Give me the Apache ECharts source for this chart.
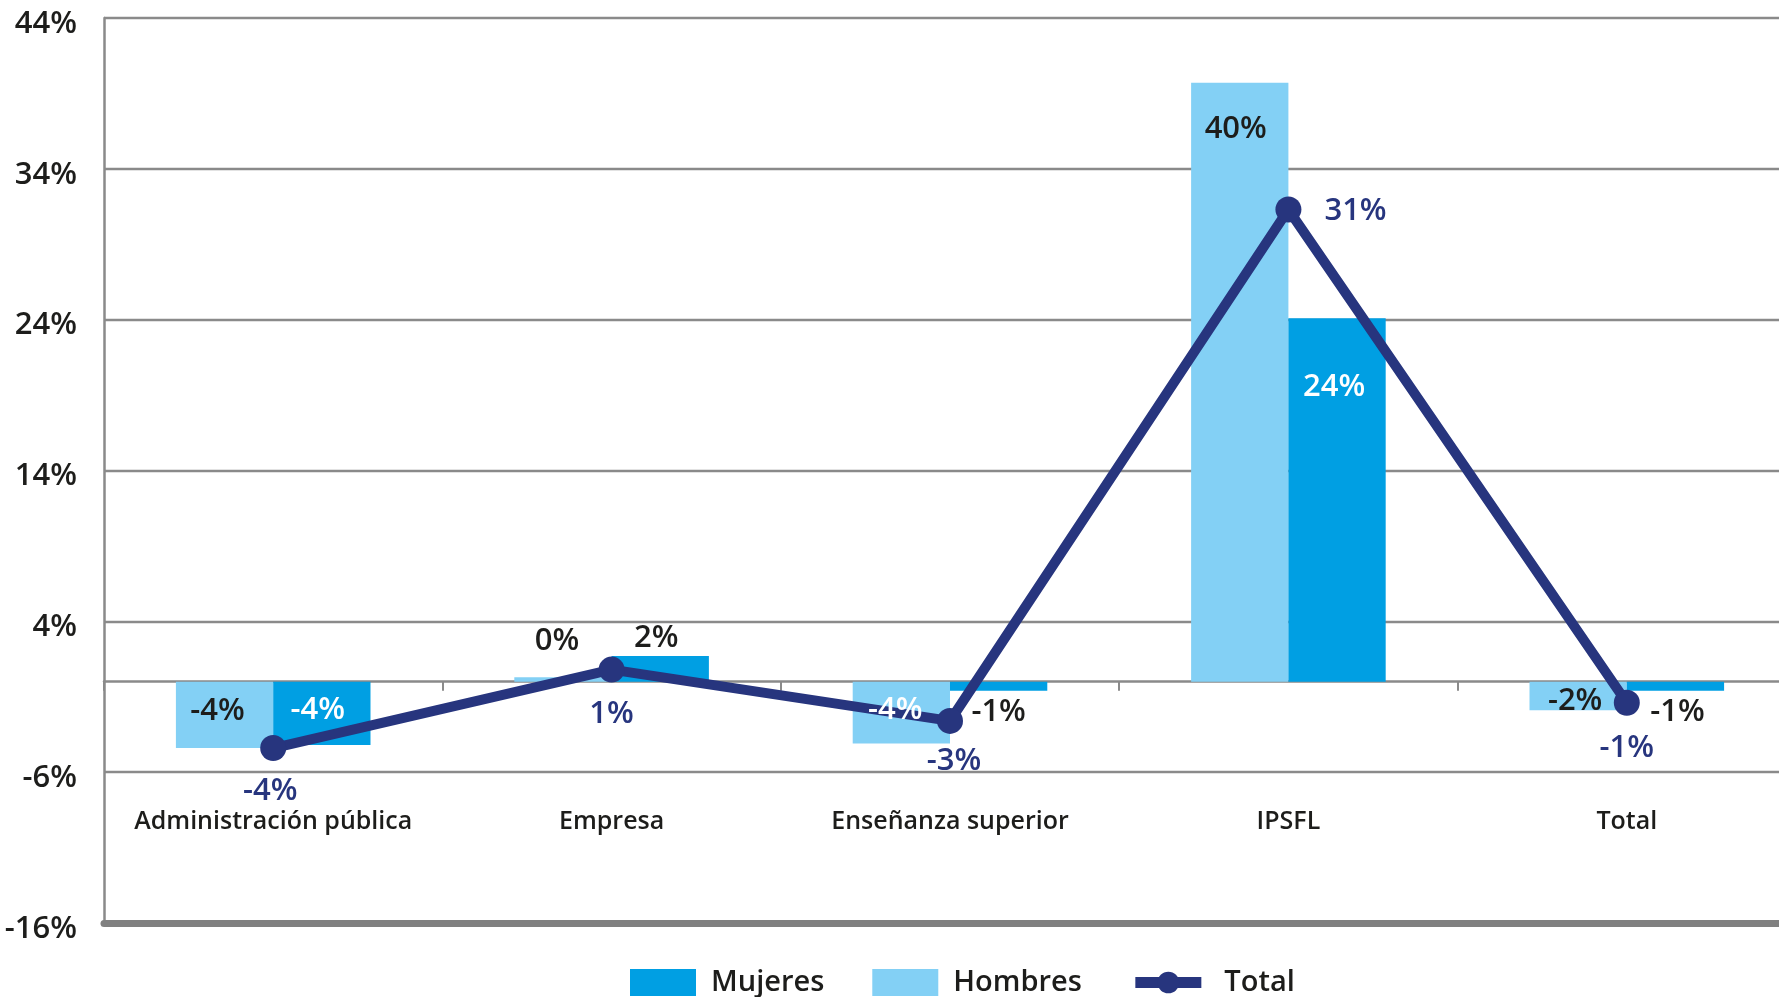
<!DOCTYPE html>
<html>
<head>
<meta charset="utf-8">
<script src="https://cdn.jsdelivr.net/npm/echarts@6/dist/echarts.min.js"></script>
<style>html,body{margin:0;padding:0;background:#fff}#c{width:1779px;height:997px}</style>
</head>
<body>
<div id="c"></div>
<script>
const categories = ['Administración pública', 'Empresa', 'Enseñanza superior', 'IPSFL', 'Total'];
const hombres = [-4.4, 0.3, -4.1, 39.7, -1.9];
const mujeres = [-4.2, 1.7, -0.6, 24.1, -0.6];
const total = [-4.4, 0.8, -2.6, 31.3, -1.4];
const yMin = -16, yMax = 44, yStep = 10;

const FONT = '"Open Sans", "Noto Sans", sans-serif';
const TXT = '#1d1d1b';
const NAVY = '#27357e';
const LBL = 31;
const W = 600;

const hombresLabels = [
  {position: 'inside', offset: [-7, -4], color: TXT},
  {position: 'top', distance: 22, offset: [-6, 2], color: TXT},
  {position: 'inside', offset: [-6, -2], color: '#fff'},
  {position: 'insideTop', distance: 31, offset: [-4, 0], color: TXT},
  {position: 'inside', offset: [-3, 5], color: TXT}
];
const mujeresLabels = [
  {position: 'inside', offset: [-4, -3], color: '#fff'},
  {position: 'top', distance: 4, offset: [-4, 2], color: TXT},
  {position: 'bottom', distance: 3, offset: [0, 3], color: TXT},
  {position: 'insideTop', distance: 54, offset: [-3, 0], color: '#fff'},
  {position: 'bottom', distance: 3, offset: [2, 3], color: TXT}
];
const totalLabels = [
  {position: 'bottom', distance: 11, offset: [-3, 4]},
  {position: 'bottom', distance: 12, offset: [0, 4]},
  {position: 'bottom', distance: 8, offset: [4, 4]},
  {position: 'right', distance: 23, offset: [0, 2]},
  {position: 'bottom', distance: 14, offset: [0, 3]}
];

const fmt = p => Math.round(p.value) + '%';
const mk = (vals, labels) => vals.map((v, i) => ({value: v, label: labels[i]}));
const barLabel = {show: true, formatter: fmt, fontSize: LBL, fontFamily: FONT, fontWeight: W};

const chart = echarts.init(document.getElementById('c'), null, {renderer: 'canvas'});
chart.setOption({
  animation: false,
  textStyle: {fontFamily: FONT},
  grid: {left: 104, right: -17, top: 18, bottom: 74, containLabel: false, outerBoundsMode: 'none'},
  legend: {
    left: 630, top: 968, padding: 0,
    itemWidth: 66, itemHeight: 27, itemGap: 48,
    data: [
      {name: 'Mujeres', icon: 'rect'},
      {name: 'Hombres', icon: 'rect'},
      {name: 'Total', lineStyle: {width: 11}, textStyle: {padding: [0, 0, 0, 18]}}
    ],
    textStyle: {fontSize: 29, color: TXT, fontFamily: FONT, fontWeight: W, padding: [0, 0, 0, 10]}
  },
  xAxis: [{
    type: 'category', data: categories,
    axisLine: {onZero: true, lineStyle: {color: '#8a8a8a', width: 2.5}},
    axisTick: {show: true, length: 9, lineStyle: {color: '#8a8a8a', width: 2}},
    axisLabel: {show: false}
  }, {
    type: 'category', data: categories, position: 'bottom',
    axisLine: {onZero: false, lineStyle: {color: '#808080', width: 7}},
    axisTick: {show: false},
    axisLabel: {interval: 0, margin: -114, fontSize: 25, color: TXT, fontFamily: FONT, fontWeight: W}
  }, {
    type: 'category', data: categories, show: false
  }],
  yAxis: [{
    type: 'value', min: yMin, max: yMax, interval: yStep,
    axisLine: {show: true, lineStyle: {color: '#8a8a8a', width: 2.5}},
    axisTick: {show: false},
    splitLine: {lineStyle: {color: '#8a8a8a', width: 2.3}},
    axisLabel: {formatter: '{value}%', fontSize: LBL, color: TXT, margin: 27, fontFamily: FONT, fontWeight: W,
      verticalAlign: 'top', lineHeight: 12}
  }, {
    type: 'value', min: yMin, max: yMax, interval: yStep, show: false
  }],
  series: [{
    name: 'Hombres', type: 'bar', data: hombres,
    barGap: 0, barCategoryGap: '42.5%',
    itemStyle: {color: '#83d0f5'}
  }, {
    name: 'Mujeres', type: 'bar', data: mujeres,
    barGap: 0, barCategoryGap: '42.5%',
    itemStyle: {color: '#009fe3'}
  }, {
    name: 'Total', type: 'line', data: mk(total, totalLabels),
    symbol: 'circle', symbolSize: 26,
    lineStyle: {color: NAVY, width: 10},
    itemStyle: {color: NAVY},
    label: {show: true, formatter: fmt, fontSize: LBL, color: NAVY, fontFamily: FONT, fontWeight: W},
    z: 5
  }, {
    name: 'Hombres labels', type: 'bar', xAxisIndex: 2, yAxisIndex: 1, z: 10, silent: true,
    data: mk(hombres, hombresLabels), barGap: 0, barCategoryGap: '42.5%',
    itemStyle: {color: 'rgba(0,0,0,0)'}, label: barLabel
  }, {
    name: 'Mujeres labels', type: 'bar', xAxisIndex: 2, yAxisIndex: 1, z: 10, silent: true,
    data: mk(mujeres, mujeresLabels), barGap: 0, barCategoryGap: '42.5%',
    itemStyle: {color: 'rgba(0,0,0,0)'}, label: barLabel
  }]
});
</script>
</body>
</html>
